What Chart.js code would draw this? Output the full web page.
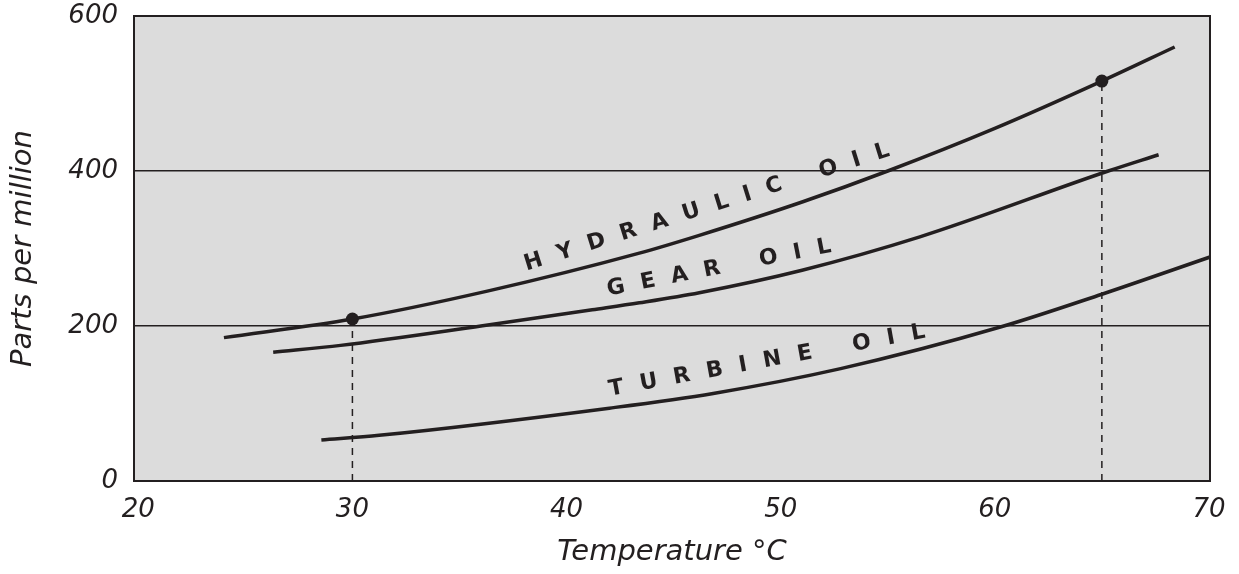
<!DOCTYPE html>
<html>
<head>
<meta charset="utf-8">
<script src="https://cdn.jsdelivr.net/npm/chart.js@4.4.1/dist/chart.umd.min.js"></script>
<style>
  html, body { margin: 0; padding: 0; background: #ffffff; }
  #wrap { width: 1239px; height: 574px; position: relative; }
</style>
</head>
<body>
<div id="wrap"><canvas id="c" width="1239" height="574"></canvas></div>
<script>
// ---- data ----
const hydraulicTemp = [24.0, 30, 36.3, 43.4, 46.2, 51.0, 55.0, 60.0, 65, 68.4];
const hydraulicPpm  = [185, 209, 245, 294, 317, 360, 400, 455, 516, 560];
const gearTemp      = [26.3, 29.45, 36.0, 41.2, 43.4, 46.2, 51.0, 56.5, 65.3, 67.65];
const gearPpm       = [166, 175, 200, 221, 230, 243, 272, 315, 400, 421];
const turbineTemp   = [28.55, 31.25, 42.0, 46.85, 52.8, 60.3, 65.0, 70.05];
const turbinePpm    = [53, 59, 94, 113, 145, 199, 241, 289];
const markerTemp    = [30, 65];
const markerPpm     = [209, 516];
const xTicks        = [20, 30, 40, 50, 60, 70];
const yTicks        = [0, 200, 400, 600];
const curveLabels   = ['HYDRAULIC OIL', 'GEAR OIL', 'TURBINE OIL'];

// label placement (data coordinates of start / end of each text run)
const labelAnchors = [
  { from: [38.05, 278.7], to: [55.05, 427] },
  { from: [41.9, 246.5], to: [52.35, 303] },
  { from: [41.98, 117.4], to: [56.74, 192.3] }
];

const INK = '#231f20';
const pts = (xs, ys) => xs.map((x, i) => ({ x: x, y: ys[i] }));

const curveStyle = {
  borderColor: INK, borderWidth: 3.5, pointRadius: 0,
  cubicInterpolationMode: 'monotone', fill: false
};

const datasets = [
  Object.assign({ label: curveLabels[0], data: pts(hydraulicTemp, hydraulicPpm) }, curveStyle),
  Object.assign({ label: curveLabels[1], data: pts(gearTemp, gearPpm) }, curveStyle),
  Object.assign({ label: curveLabels[2], data: pts(turbineTemp, turbinePpm) }, curveStyle)
];
markerTemp.forEach((t, i) => {
  datasets.push({
    label: 'drop' + i,
    data: [{ x: t, y: 0 }, { x: t, y: markerPpm[i] }],
    borderColor: INK, borderWidth: 1.5, borderDash: [7, 6],
    pointRadius: 0, fill: false
  });
});
datasets.push({
  label: 'markers',
  data: pts(markerTemp, markerPpm),
  showLine: false, pointRadius: 6.5, pointBackgroundColor: INK,
  pointBorderColor: INK, pointBorderWidth: 0
});

const areaPlugin = {
  id: 'area',
  beforeDraw(chart) {
    const { ctx, chartArea: a } = chart;
    ctx.save();
    ctx.fillStyle = '#dcdcdc';
    ctx.fillRect(a.left, a.top, a.right - a.left, a.bottom - a.top);
    ctx.restore();
  },
  afterDraw(chart) {
    const { ctx, chartArea: a } = chart;
    ctx.save();
    ctx.strokeStyle = INK;
    ctx.lineWidth = 2;
    ctx.strokeRect(a.left, a.top, a.right - a.left, a.bottom - a.top);
    ctx.restore();
  }
};

const textPlugin = {
  id: 'curveText',
  afterDatasetsDraw(chart) {
    const { ctx, scales } = chart;
    ctx.save();
    ctx.font = 'bold 22px "DejaVu Sans", sans-serif';
    ctx.fillStyle = INK;
    ctx.textBaseline = 'middle';
    ctx.textAlign = 'left';
    curveLabels.forEach((txt, k) => {
      const an = labelAnchors[k];
      const x0 = scales.x.getPixelForValue(an.from[0]);
      const y0 = scales.y.getPixelForValue(an.from[1]);
      const x1 = scales.x.getPixelForValue(an.to[0]);
      const y1 = scales.y.getPixelForValue(an.to[1]);
      const L = Math.hypot(x1 - x0, y1 - y0);
      const ang = Math.atan2(y1 - y0, x1 - x0);
      const chars = txt.split('');
      const widths = chars.map(c => c === ' ' ? 8 : ctx.measureText(c).width);
      const W = widths.reduce((s, w) => s + w, 0);
      const gap = (L - W) / (chars.length - 1);
      ctx.save();
      ctx.translate(x0, y0);
      ctx.rotate(ang);
      let off = 0;
      chars.forEach((c, i) => {
        if (c !== ' ') ctx.fillText(c, off, 0);
        off += widths[i] + gap;
      });
      ctx.restore();
    });
    ctx.restore();
  }
};

new Chart(document.getElementById('c'), {
  type: 'line',
  data: { datasets: datasets },
  plugins: [areaPlugin, textPlugin],
  options: {
    responsive: false,
    animation: false,
    layout: { padding: { top: 16, right: 29, left: 0, bottom: 0 } },
    plugins: { legend: { display: false }, tooltip: { enabled: false } },
    scales: {
      x: {
        type: 'linear', min: 19.8, max: 70.05,
        afterBuildTicks(s) { s.ticks = xTicks.map(v => ({ value: v })); },
        afterFit(s) { s.height = 93; s.paddingLeft = 0; s.paddingRight = 0; },
        grid: { display: false, drawTicks: false },
        border: { display: false },
        ticks: {
          padding: 14, color: INK,
          font: { family: '"DejaVu Sans", sans-serif', size: 26, style: 'italic' }
        },
        title: {
          display: true, text: 'Temperature °C', color: INK,
          padding: { top: 0, bottom: 4 },
          font: { family: '"DejaVu Sans", sans-serif', size: 29, style: 'italic' }
        }
      },
      y: {
        type: 'linear', min: 0, max: 600,
        afterBuildTicks(s) { s.ticks = yTicks.map(v => ({ value: v })); },
        afterFit(s) { s.width = 134; s.paddingTop = 0; s.paddingBottom = 0; },
        grid: {
          drawTicks: false, lineWidth: 1.5,
          color: ctx => (ctx.tick && (ctx.tick.value === 0 || ctx.tick.value === 600)) ? 'rgba(0,0,0,0)' : INK
        },
        border: { display: false },
        ticks: {
          padding: 16, color: INK,
          font: { family: '"DejaVu Sans", sans-serif', size: 26, style: 'italic' }
        },
        title: {
          display: true, text: 'Parts per million', color: INK,
          padding: { top: 6, bottom: 0 },
          font: { family: '"DejaVu Sans", sans-serif', size: 29, style: 'italic' }
        }
      }
    }
  }
});
</script>
</body>
</html>
